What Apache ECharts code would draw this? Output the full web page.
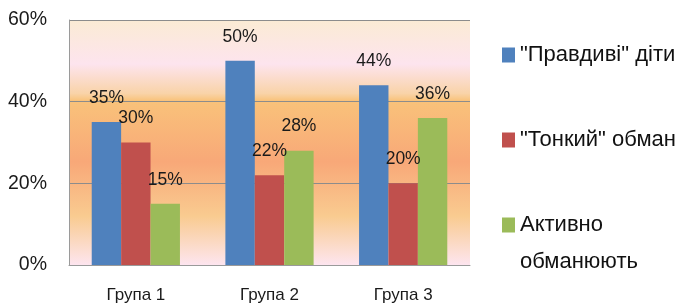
<!DOCTYPE html>
<html>
<head>
<meta charset="utf-8">
<script src="https://cdn.jsdelivr.net/npm/echarts@6/dist/echarts.min.js"></script>
<style>
  html, body { margin: 0; padding: 0; background: #fff; }
  #chart { width: 681px; height: 307px; }
</style>
</head>
<body>
<div id="chart"></div>
<script>
  // groups and shares (%)
  var categories = ['Група 1', 'Група 2', 'Група 3']
  var seriesNames = ['"Правдиві" діти', '"Тонкий" обман', 'Активно обманюють']
  var truthful = [35, 50, 44]
  var subtle = [30, 22, 20]
  var active = [15, 28, 36]

  var narrow = '"Liberation Sans Narrow", "Arial Narrow", "Liberation Sans", sans-serif'
  var regular = '"Liberation Sans", Arial, sans-serif'

  var chart = echarts.init(document.getElementById('chart'))

  var legendBase = {
    orient: 'vertical',
    left: 502,
    padding: 0,
    itemWidth: 13,
    itemHeight: 15,
    itemGap: 0,
    icon: 'rect',
    selectedMode: false,
    textStyle: { fontFamily: regular, fontSize: 22, color: '#111', lineHeight: 37 }
  }

  function makeLegend(name, top) {
    var l = Object.assign({}, legendBase, { data: [name], top: top })
    return l
  }

  var bgGradient = new echarts.graphic.LinearGradient(0, 0, 0, 1, [
    { offset: 0, color: '#FBEBD4' },
    { offset: 0.18, color: '#FDE4EE' },
    { offset: 0.3, color: '#F9D3A8' },
    { offset: 0.33, color: '#F9C27A' },
    { offset: 0.58, color: '#F8A878' },
    { offset: 0.8, color: '#F9CB90' },
    { offset: 1, color: '#FDE5EF' }
  ])

  var labelStyle = {
    show: true,
    position: 'top',
    distance: 14,
    formatter: '{c}%',
    fontFamily: narrow,
    fontSize: 17.5,
    lineHeight: 20,
    color: '#1a1a1a'
  }

  var legends = [
    makeLegend(seriesNames[0], 36.5),
    makeLegend(seriesNames[1], 121.5),
    makeLegend(seriesNames[2], 169.5)
  ]
  legends[2].formatter = function () {
    return ' \nАктивно\nобманюють'
  }

  var option = {
    animation: false,
    color: ['#4F81BD', '#C0504D', '#9BBB59'],
    legend: legends,
    grid: {
      left: 69,
      right: 211,
      top: 20,
      bottom: 42,
      show: true,
      borderWidth: 0,
      backgroundColor: bgGradient
    },
    xAxis: {
      type: 'category',
      data: categories,
      axisTick: { show: false },
      axisLine: { lineStyle: { color: '#9a9a9a', width: 1 } },
      axisLabel: { fontFamily: narrow, fontSize: 17, color: '#1a1a1a', margin: 22 }
    },
    yAxis: {
      type: 'value',
      min: 0,
      max: 60,
      interval: 20,
      axisLine: { show: true, lineStyle: { color: '#9a9a9a', width: 1 } },
      axisTick: { show: false },
      axisLabel: { formatter: '{value}%', fontFamily: narrow, fontSize: 19.5, color: '#1a1a1a', margin: 22 },
      splitLine: { lineStyle: { color: '#8c8c8c', width: 1 } }
    },
    series: [
      { name: seriesNames[0], type: 'bar', data: truthful, barGap: '0%', barCategoryGap: '34%', label: labelStyle },
      { name: seriesNames[1], type: 'bar', data: subtle, barGap: '0%', barCategoryGap: '34%', label: labelStyle },
      { name: seriesNames[2], type: 'bar', data: active, barGap: '0%', barCategoryGap: '34%', label: labelStyle }
    ]
  }

  chart.setOption(option)
</script>
</body>
</html>
